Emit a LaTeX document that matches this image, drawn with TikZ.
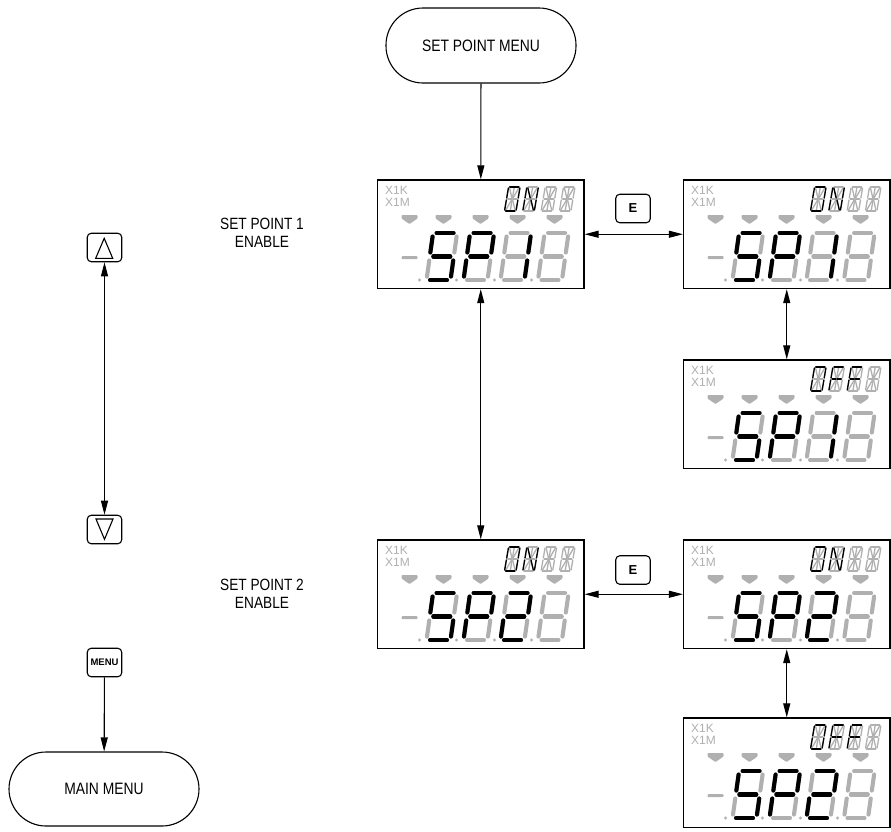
\documentclass[tikz,border=0pt]{standalone}
\usepackage{fontspec}
\setmainfont{Liberation Sans}
\newfontfamily\labfont[FakeStretch=0.84]{Liberation Sans}
\usetikzlibrary{arrows.meta}
\definecolor{lcdgray}{HTML}{B0B0B0}
\tikzset{
  pilltext/.style={font=\labfont\fontsize{16.5}{18}\selectfont,align=center},
  labeltext/.style={font=\labfont\fontsize{16.3}{18}\selectfont,align=center},
  lcdbox/.style={draw,line width=1.3pt,fill=white,minimum width=206.5pt,inner sep=0pt},
  keybox/.style={draw,line width=1.1pt,rounded corners=4pt,fill=white,minimum width=34.5pt,minimum height=28.5pt,inner sep=0pt},
  keytri/.style={draw,line width=1.1pt,line join=miter},
  flow/.style={line width=1.1pt,-{Triangle[length=14pt,width=7pt]}},
  biflow/.style={line width=1.1pt,{Triangle[length=14pt,width=7pt]}-{Triangle[length=14pt,width=7pt]}},
  bigseg/.style={line width=4.1pt,line cap=round},
  smallseg/.style={line width=1.3pt,line cap=round},
  lcdmark/.style={fill=lcdgray,draw=none},
  lcdtext/.style={text=lcdgray,font=\fontsize{12}{12}\selectfont,inner sep=0pt,anchor=west}
}
% seven-segment elements
\def\defbig#1#2{\expandafter\def\csname lcdbg#1\endcsname##1{\draw[bigseg,##1] #2;}}
\defbig{a}{(3.5,47)--(20.5,47)}
\defbig{d}{(3.5,0)--(20.5,0)}
\defbig{g}{(3.5,23.5)--(20.5,23.5)}
\defbig{f}{(0,27.5)--(0,43.5)}
\defbig{e}{(0,3.5)--(0,19.5)}
\defbig{b}{(24,27.5)--(24,43.5)}
\defbig{c}{(24,3.5)--(24,19.5)}
% fourteen-segment elements
\def\defsmall#1#2{\expandafter\def\csname lcdsm#1\endcsname##1{\draw[smallseg,##1] #2;}}
\defsmall{a}{(1,24)--(9,24)}
\defsmall{d}{(1,0)--(9,0)}
\defsmall{f}{(0,13)--(0,23)}
\defsmall{e}{(0,1)--(0,11)}
\defsmall{b}{(10,13)--(10,23)}
\defsmall{c}{(10,1)--(10,11)}
\defsmall{g}{(1,12)--(4.5,12)}
\defsmall{p}{(5.5,12)--(9,12)}
\defsmall{h}{(1,23)--(4.5,13)}
\defsmall{i}{(5,23)--(5,13)}
\defsmall{j}{(9,23)--(5.5,13)}
\defsmall{k}{(1,1)--(4.5,11)}
\defsmall{l}{(5,1)--(5,11)}
\defsmall{m}{(9,1)--(5.5,11)}
\def\bigdigit#1#2{%
  \begin{scope}[shift={(#1,100)},xslant=0.14,yscale=-1]
    \foreach \s in {a,b,c,d,e,f,g}{\csname lcdbg\s\endcsname{lcdgray}}
    \foreach \s in {#2}{\csname lcdbg\s\endcsname{black}}
  \end{scope}}
\def\smalldigit#1#2{%
  \begin{scope}[shift={(#1,31)},xslant=0.17,yscale=-1,xscale=1.15]
    \foreach \s in {a,b,c,d,e,f,g,p,h,i,j,k,l,m}{\csname lcdsm\s\endcsname{lcdgray}}
    \foreach \s in {#2}{\csname lcdsm\s\endcsname{black}}
  \end{scope}}
% name, left, top, height, small digits 1-4, third big digit
\def\lcd#1#2#3#4#5#6#7#8#9{%
  \node[lcdbox,minimum height=#4pt] (#1) at ({#2+103.25},{#3+#4/2}) {};
  \begin{scope}[shift={(#2,#3)}]
    \node[lcdtext] (#1x1k) at (7.5,10) {X1K};
    \node[lcdtext] (#1x1m) at (7.5,22) {X1M};
    \foreach \tx in {32,66,103,140,177}{
      \fill[lcdmark,rounded corners=0.8pt] (\tx-8,35) -- (\tx+8,35) -- (\tx+8,38.5) -- (\tx,44) -- (\tx-8,38.5) -- cycle;}
    \fill[lcdmark,rounded corners=1pt] (24,76) rectangle (40,79);
    \foreach \dx in {42,79,117,154}{\fill[lcdmark] (\dx,100) circle (1.6);}
    \smalldigit{127}{#5}
    \smalldigit{145.3}{#6}
    \smalldigit{163.6}{#7}
    \smalldigit{181.9}{#8}
    \bigdigit{49}{a,f,g,c,d}
    \bigdigit{86}{a,f,b,g,e}
    \bigdigit{123}{#9}
    \bigdigit{160.5}{}
  \end{scope}}
\begin{document}
\begin{tikzpicture}[x=1pt,y=-1pt]
\useasboundingbox (0,0) rectangle (891,831);
\fill[white] (0,0) rectangle (891,831);
% terminators
\node[draw,line width=1.1pt,rounded corners=37pt,fill=white,minimum width=190pt,minimum height=75pt,inner sep=0pt,pilltext] (setmenu) at (481,45.5) {SET POINT MENU};
\node[draw,line width=1.1pt,rounded corners=37pt,fill=white,minimum width=190pt,minimum height=74pt,inner sep=0pt,pilltext] (mainmenu) at (104,789) {MAIN MENU};
% displays
\lcd{aone}{377.5}{180}{108.5}{a,b,c,d,e,f}{f,e,b,c,h,m}{}{}{b,c}
\lcd{bone}{683.5}{180}{108.5}{a,b,c,d,e,f}{f,e,b,c,h,m}{}{}{b,c}
\lcd{cone}{683.5}{360}{108.5}{a,b,c,d,e,f}{a,f,e,g,p}{a,f,e,g,p}{}{b,c}
\lcd{atwo}{377.5}{540}{108.5}{a,b,c,d,e,f}{f,e,b,c,h,m}{}{}{a,b,g,e,d}
\lcd{btwo}{683.5}{540}{108.5}{a,b,c,d,e,f}{f,e,b,c,h,m}{}{}{a,b,g,e,d}
\lcd{ctwo}{683.5}{718}{109.5}{a,b,c,d,e,f}{a,f,e,g,p}{a,f,e,g,p}{}{a,b,g,e,d}
% keys
\node[keybox] (up) at (104.5,247.5) {};
\draw[keytri] (104.2,238.3) -- (112.7,258.3) -- (95.7,258.3) -- cycle;
\node[keybox] (down) at (104.5,529.5) {};
\draw[keytri] (96,519) -- (113,519) -- (104.5,539.3) -- cycle;
\node[keybox,font=\bfseries\fontsize{9.5}{10}\selectfont] (menu) at (104.5,662.5) {MENU};
\node[keybox,font=\bfseries\fontsize{13}{13}\selectfont] (eone) at (633,208.5) {E};
\node[keybox,font=\bfseries\fontsize{13}{13}\selectfont] (etwo) at (633,570) {E};
% labels
\node[labeltext] (lab1) at (262,232.5) {SET POINT 1\\ENABLE};
\node[labeltext] (lab2) at (262,593.5) {SET POINT 2\\ENABLE};
% connectors
\draw[flow] (setmenu) -- (aone);
\draw[biflow] (aone) -- (atwo);
\draw[biflow] (aone) -- (bone);
\draw[biflow] (bone) -- (cone);
\draw[biflow] (atwo) -- (btwo);
\draw[biflow] (btwo) -- (ctwo);
\draw[biflow] (up) -- (down);
\draw[flow] (menu) -- (mainmenu);
\end{tikzpicture}
\end{document}
